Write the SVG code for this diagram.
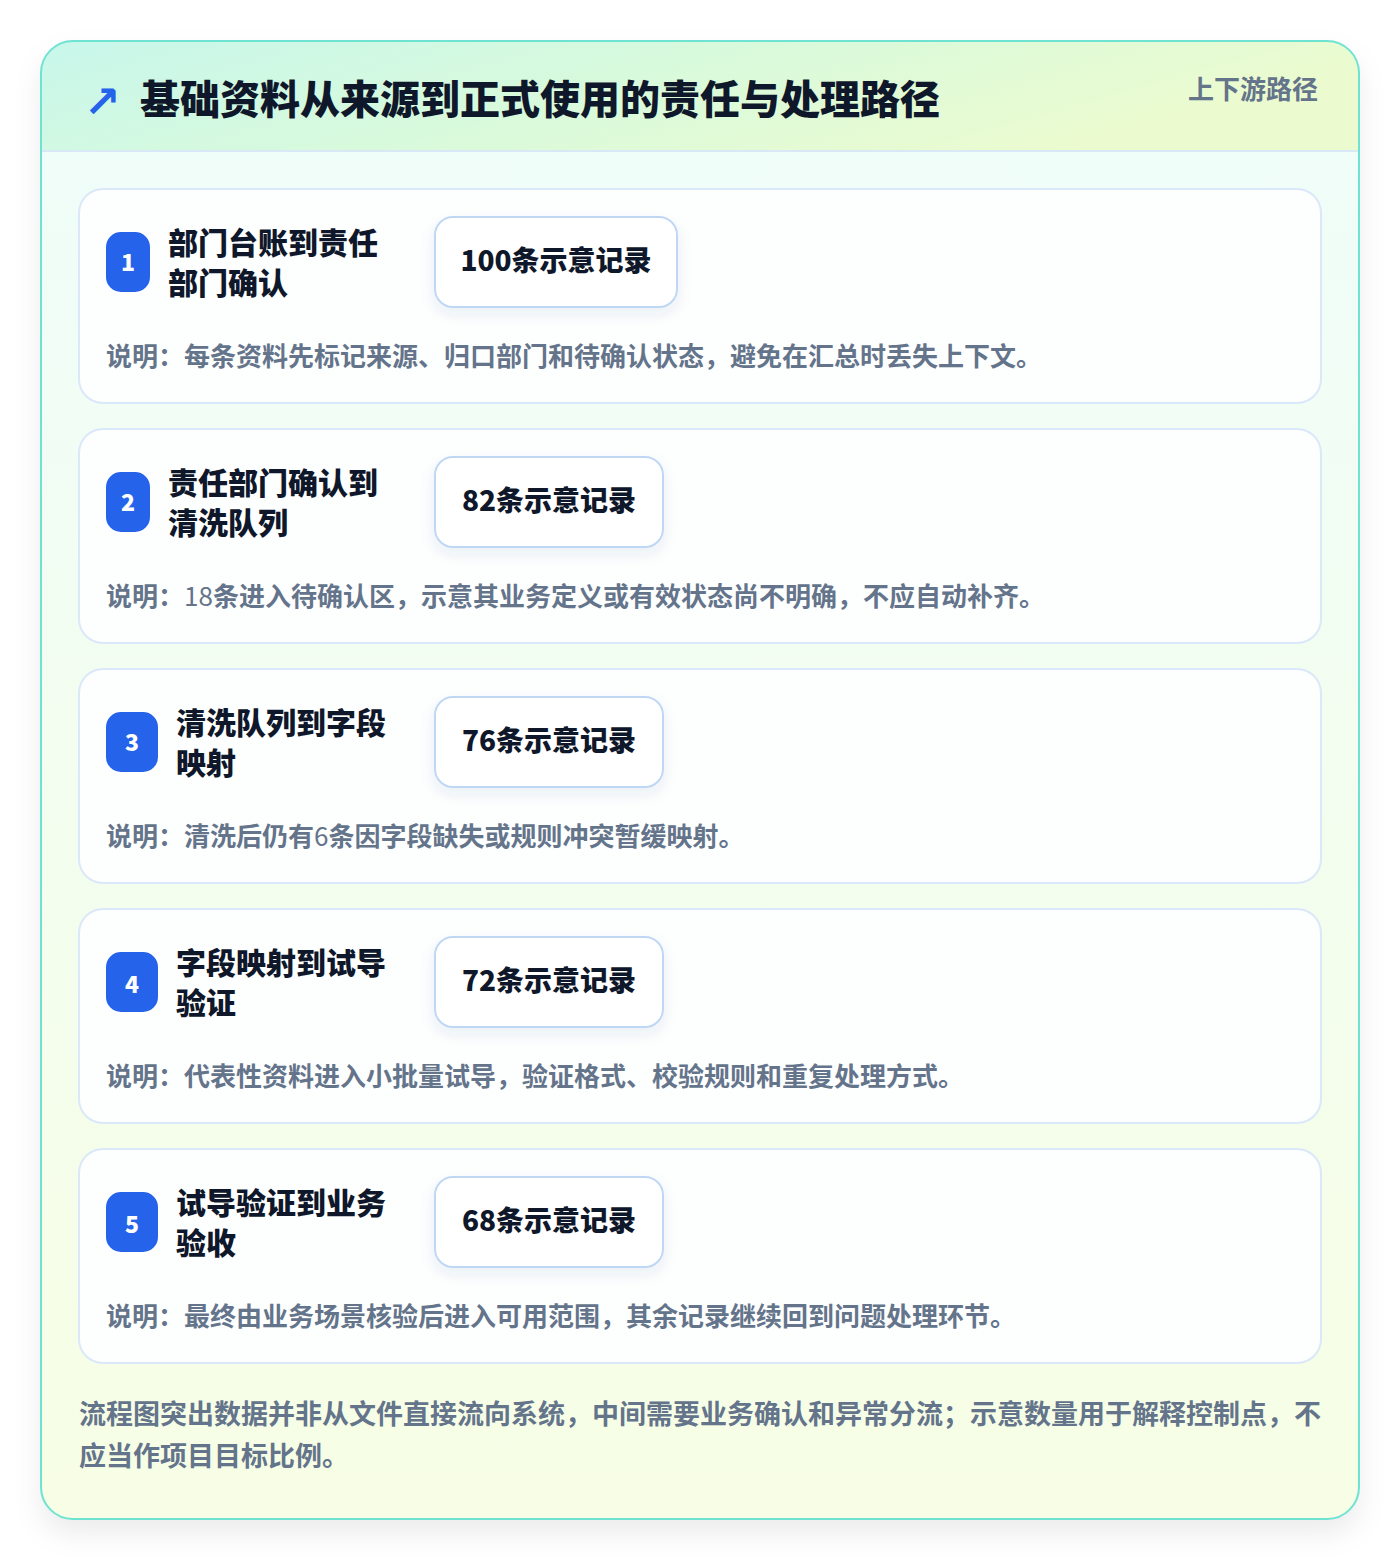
<svg xmlns="http://www.w3.org/2000/svg" width="1400" height="1560" viewBox="0 0 1400 1560">
<defs>
<linearGradient id="hdr" x1="0" y1="0" x2="1" y2="0.3">
<stop offset="0" stop-color="#c8f7eb"/>
<stop offset="0.5" stop-color="#d8fadc"/>
<stop offset="1" stop-color="#ecfbcf"/>
</linearGradient>
<linearGradient id="body" x1="0" y1="0" x2="0" y2="1">
<stop offset="0" stop-color="#effdfa"/>
<stop offset="1" stop-color="#f7fee5"/>
</linearGradient>
<filter id="sh" x="-10%" y="-10%" width="120%" height="120%">
<feDropShadow dx="0" dy="14" stdDeviation="14" flood-color="#0f172a" flood-opacity="0.08"/>
</filter>
<filter id="sh2" x="-20%" y="-30%" width="140%" height="160%">
<feDropShadow dx="0" dy="6" stdDeviation="7" flood-color="#1e3a8a" flood-opacity="0.08"/>
</filter>
<clipPath id="outer"><rect x="41" y="41" width="1318" height="1478" rx="32"/></clipPath>
<style>
text{font-family:"Noto Sans CJK SC","Noto Sans",sans-serif;}
.card{fill:#fdfefe;stroke:#dbe8fa;stroke-width:2;}
.badge{fill:#2563eb;}
.bnum{fill:#ffffff;font-size:23px;font-weight:900;text-anchor:middle;}
.ttl{fill:#0f172a;font-size:30px;font-weight:900;}
.cbox{fill:#ffffff;stroke:#bfd7f5;stroke-width:2;}
.cnt{fill:#0f172a;font-size:28px;font-weight:900;text-anchor:middle;}
.desc{fill:#64748b;font-size:26px;font-weight:700;}
</style>
</defs>
<rect width="1400" height="1560" fill="#ffffff"/>
<g id="frame">
<rect x="41" y="41" width="1318" height="1478" rx="32" fill="url(#body)" filter="url(#sh)"/>
<g clip-path="url(#outer)">
<rect x="41" y="41" width="1318" height="110" fill="url(#hdr)"/>
<line x1="41" y1="151" x2="1359" y2="151" stroke="#d9e8f7" stroke-width="2"/>
</g>
<rect x="41" y="41" width="1318" height="1478" rx="32" fill="none" stroke="#6fe3d2" stroke-width="2"/>
</g>
<g id="header">
<text x="84" y="117" font-size="44" font-weight="700" fill="#2563eb" style="font-family:'DejaVu Sans',sans-serif">↗</text>
<text x="140" y="114" font-size="40" font-weight="900" fill="#0f172a">基础资料从来源到正式使用的责任与处理路径</text>
<text x="1318" y="99" font-size="26" font-weight="700" fill="#64748b" text-anchor="end">上下游路径</text>
</g>
<g id="step1">
<rect class="card" x="79" y="189" width="1242" height="214" rx="24"/>
<rect class="badge" x="106" y="232" width="44" height="60" rx="15"/>
<text class="bnum" x="128" y="271">1</text>
<text class="ttl" x="168" y="254">部门台账到责任</text>
<text class="ttl" x="168" y="294">部门确认</text>
<rect class="cbox" x="435" y="217" width="242" height="90" rx="18" filter="url(#sh2)"/>
<text class="cnt" x="556" y="271">100条示意记录</text>
<text class="desc" x="106" y="366">说明：每条资料先标记来源、归口部门和待确认状态，避免在汇总时丢失上下文。</text>
</g>
<g id="step2">
<rect class="card" x="79" y="429" width="1242" height="214" rx="24"/>
<rect class="badge" x="106" y="472" width="44" height="60" rx="15"/>
<text class="bnum" x="128" y="511">2</text>
<text class="ttl" x="168" y="494">责任部门确认到</text>
<text class="ttl" x="168" y="534">清洗队列</text>
<rect class="cbox" x="435" y="457" width="228" height="90" rx="18" filter="url(#sh2)"/>
<text class="cnt" x="549" y="511">82条示意记录</text>
<text class="desc" x="106" y="606">说明：<tspan font-weight="400">18</tspan>条进入待确认区，示意其业务定义或有效状态尚不明确，不应自动补齐。</text>
</g>
<g id="step3">
<rect class="card" x="79" y="669" width="1242" height="214" rx="24"/>
<rect class="badge" x="106" y="712" width="52" height="60" rx="15"/>
<text class="bnum" x="132" y="751">3</text>
<text class="ttl" x="176" y="734">清洗队列到字段</text>
<text class="ttl" x="176" y="774">映射</text>
<rect class="cbox" x="435" y="697" width="228" height="90" rx="18" filter="url(#sh2)"/>
<text class="cnt" x="549" y="751">76条示意记录</text>
<text class="desc" x="106" y="846">说明：清洗后仍有<tspan font-weight="400">6</tspan>条因字段缺失或规则冲突暂缓映射。</text>
</g>
<g id="step4">
<rect class="card" x="79" y="909" width="1242" height="214" rx="24"/>
<rect class="badge" x="106" y="952" width="52" height="60" rx="15"/>
<text class="bnum" x="132" y="993">4</text>
<text class="ttl" x="176" y="974">字段映射到试导</text>
<text class="ttl" x="176" y="1014">验证</text>
<rect class="cbox" x="435" y="937" width="228" height="90" rx="18" filter="url(#sh2)"/>
<text class="cnt" x="549" y="991">72条示意记录</text>
<text class="desc" x="106" y="1086">说明：代表性资料进入小批量试导，验证格式、校验规则和重复处理方式。</text>
</g>
<g id="step5">
<rect class="card" x="79" y="1149" width="1242" height="214" rx="24"/>
<rect class="badge" x="106" y="1192" width="52" height="60" rx="15"/>
<text class="bnum" x="132" y="1233">5</text>
<text class="ttl" x="176" y="1214">试导验证到业务</text>
<text class="ttl" x="176" y="1254">验收</text>
<rect class="cbox" x="435" y="1177" width="228" height="90" rx="18" filter="url(#sh2)"/>
<text class="cnt" x="549" y="1231">68条示意记录</text>
<text class="desc" x="106" y="1326">说明：最终由业务场景核验后进入可用范围，其余记录继续回到问题处理环节。</text>
</g>
<g id="connectors"></g>
<g id="footer">
<text x="79" y="1424" font-size="27" font-weight="700" fill="#64748b">流程图突出数据并非从文件直接流向系统，中间需要业务确认和异常分流；示意数量用于解释控制点，不</text>
<text x="79" y="1466" font-size="27" font-weight="700" fill="#64748b">应当作项目目标比例。</text>
</g>
</svg>
